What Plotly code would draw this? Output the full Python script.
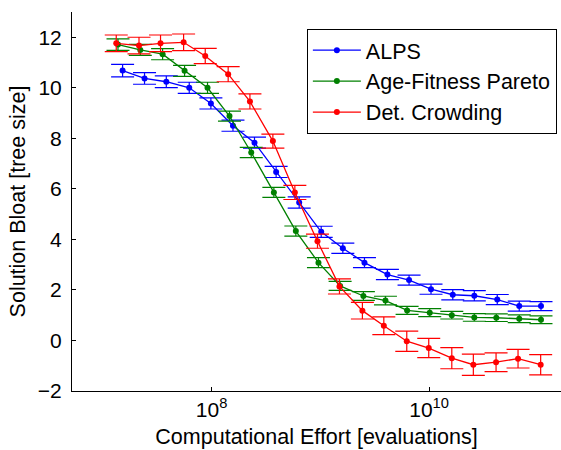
import plotly.graph_objects as go

# Computational effort (evaluations) at each sampled point
alps_effort = [1.521e7, 2.421e7, 3.837e7, 6.237e7, 9.863e7, 1.574e8, 2.483e8, 3.926e8, 6.397e8, 1.019e9,
               1.611e9, 2.547e9, 4.140e9, 6.546e9, 1.042e10, 1.652e10, 2.606e10, 4.236e10, 6.745e10, 1.069e11]
afp_effort = [1.380e7, 2.213e7, 3.548e7, 5.649e7, 9.183e7, 1.462e8, 2.317e8, 3.741e8, 5.957e8, 9.616e8,
              1.521e9, 2.489e9, 3.972e9, 6.281e9, 1.014e10, 1.618e10, 2.606e10, 4.150e10, 6.745e10, 1.069e11]
dc_effort = [1.330e7, 2.153e7, 3.396e7, 5.534e7, 8.750e7, 1.422e8, 2.254e8, 3.664e8, 5.834e8, 9.419e8,
             1.500e9, 2.438e9, 3.837e9, 6.237e9, 9.930e9, 1.618e10, 2.553e10, 4.130e10, 6.577e10, 1.062e11]

# Mean solution bloat (tree size)
alps_bloat = [10.68, 10.37, 10.24, 10.00, 9.38, 8.50, 7.83, 6.67, 5.46, 4.30,
              3.65, 3.08, 2.61, 2.39, 2.03, 1.81, 1.77, 1.62, 1.36, 1.36]
afp_bloat = [11.71, 11.50, 11.33, 10.67, 10.00, 8.88, 7.44, 5.86, 4.33, 3.08,
             2.16, 1.76, 1.58, 1.19, 1.10, 1.00, 0.91, 0.90, 0.86, 0.82]
dc_bloat = [11.76, 11.67, 11.76, 11.80, 11.26, 10.54, 9.46, 7.89, 5.86, 3.93,
            2.14, 1.18, 0.58, -0.03, -0.30, -0.70, -0.96, -0.86, -0.72, -0.96]

# Error bar half-lengths
alps_err = [0.25, 0.23, 0.23, 0.22, 0.22, 0.22, 0.22, 0.22, 0.22, 0.22,
            0.20, 0.20, 0.20, 0.20, 0.20, 0.20, 0.20, 0.20, 0.20, 0.18]
afp_err = [0.23, 0.22, 0.22, 0.22, 0.22, 0.20, 0.20, 0.20, 0.20, 0.20,
           0.18, 0.17, 0.17, 0.16, 0.16, 0.15, 0.15, 0.15, 0.15, 0.15]
dc_err = [0.33, 0.33, 0.33, 0.33, 0.30, 0.30, 0.30, 0.28, 0.28, 0.28,
          0.30, 0.33, 0.35, 0.40, 0.38, 0.42, 0.42, 0.37, 0.37, 0.40]

series = [
    ("ALPS", alps_effort, alps_bloat, alps_err, "rgb(0,0,255)"),
    ("Age-Fitness Pareto", afp_effort, afp_bloat, afp_err, "rgb(0,128,0)"),
    ("Det. Crowding", dc_effort, dc_bloat, dc_err, "rgb(255,0,0)"),
]

FONT = "Arial, Liberation Sans, sans-serif"

fig = go.Figure()
for name, x, y, err, color in series:
    fig.add_trace(go.Scatter(
        x=x, y=y, name=name, mode="lines+markers",
        line=dict(color=color, width=1.3),
        marker=dict(color=color, size=6),
        error_y=dict(type="data", array=err, visible=True,
                     color=color, thickness=1.2, width=11.5),
    ))

fig.update_layout(
    width=561, height=450,
    margin=dict(l=72, r=0, t=12, b=59),
    paper_bgcolor="white", plot_bgcolor="white",
    font=dict(family=FONT, size=21, color="black"),
    showlegend=True,
    legend=dict(x=0.4803, y=0.956, xanchor="left", yanchor="top",
                bgcolor="white", bordercolor="black", borderwidth=1,
                itemwidth=48,
                font=dict(family=FONT, size=21.5, color="black")),
)

fig.update_xaxes(
    type="log", range=[6.717, 11.213],
    showline=True, linecolor="black", linewidth=1, mirror=False,
    showgrid=False, zeroline=False,
    ticks="inside", ticklen=4, tickcolor="black",
    tickvals=[1e8, 1e10], ticktext=["10<sup>8</sup>", "10<sup>10</sup>"],
    tickfont=dict(family=FONT, size=21),
    title=dict(text="Computational Effort [evaluations]",
               font=dict(family=FONT, size=21.5), standoff=8),
)
fig.update_yaxes(
    range=[-2, 13],
    showline=True, linecolor="black", linewidth=1, mirror=False,
    showgrid=False, zeroline=False,
    ticks="inside", ticklen=4, tickcolor="black",
    tickvals=[-2, 0, 2, 4, 6, 8, 10, 12],
    tickfont=dict(family=FONT, size=21),
    ticklabelstandoff=5,
    title=dict(text="Solution Bloat [tree size]",
               font=dict(family=FONT, size=21.5), standoff=6),
)

fig.write_html("out.html")
